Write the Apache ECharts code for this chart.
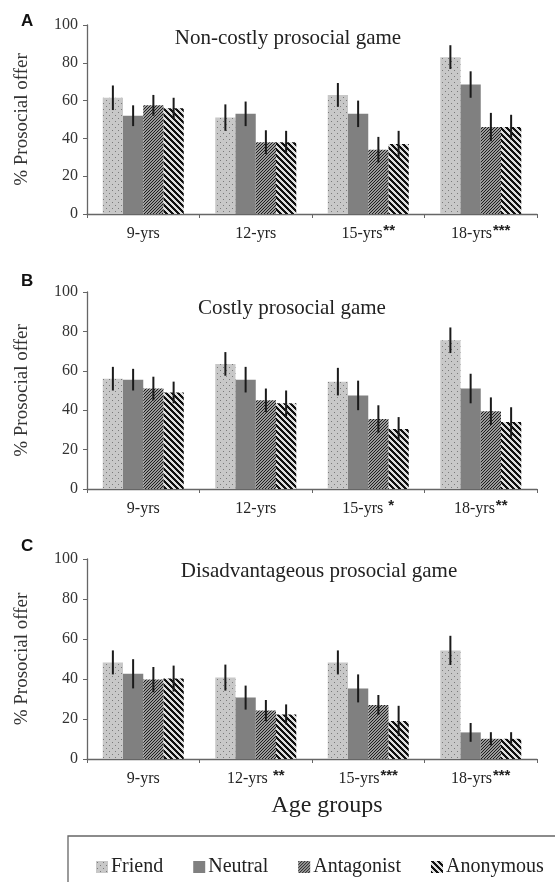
<!DOCTYPE html>
<html>
<head>
<meta charset="utf-8">
<script src="https://cdn.jsdelivr.net/npm/echarts@6/dist/echarts.min.js"></script>
<style>
  html, body { margin: 0; padding: 0; background: #fff; }
  #main { width: 555px; height: 882px; }
</style>
</head>
<body>
<div id="main"></div>
<script>
// categories and significance marks
var ageGroups = ['9-yrs', '12-yrs', '15-yrs', '18-yrs'];
var starsA = ['', '', '**', '***'];
var starsB = ['', '', ' *', '**'];
var starsC = ['', ' **', '***', '***'];
var yTicks = [0, 20, 40, 60, 80, 100];

// A: Non-costly prosocial game
var friendA = [61.5, 51, 63, 83];
var neutralA = [52, 53, 53, 68.5];
var antagA = [57.5, 38, 34, 46];
var anonA = [56, 38, 37, 46];
var friendErrA = [6.5, 7, 6.3, 6.3];
var neutralErrA = [5.5, 6.5, 7, 7];
var antagErrA = [5.5, 6.3, 6.8, 7.5];
var anonErrA = [5.5, 6, 7, 6.5];

// B: Costly prosocial game
var friendB = [56, 63.5, 54.5, 75.5];
var neutralB = [55.5, 55.5, 47.5, 51];
var antagB = [51, 45, 35.5, 39.5];
var anonB = [49, 43.5, 30.5, 34];
var friendErrB = [6, 6, 7, 6.5];
var neutralErrB = [5.5, 6.5, 7.5, 7.5];
var antagErrB = [6, 6, 7, 7];
var anonErrB = [5.5, 6.5, 6, 7.5];

// C: Disadvantageous prosocial game
var friendC = [48.3, 40.7, 48.3, 54.3];
var neutralC = [42.6, 30.7, 35.3, 13.3];
var antagC = [39.7, 24.2, 27, 10.1];
var anonC = [40.2, 22.3, 19, 10.1];
var friendErrC = [6, 6.5, 6, 7.3];
var neutralErrC = [7.3, 6, 7, 4.7];
var antagErrC = [6.3, 5.3, 5, 3.3];
var anonErrC = [6.5, 5, 7.6, 3.3];

var names = ['Friend', 'Neutral', 'Antagonist', 'Anonymous'];

// fill patterns drawn pixel by pixel
function makePattern(size, bg, fg, test) {
    var c = document.createElement('canvas');
    c.width = size; c.height = size;
    var ctx = c.getContext('2d');
    ctx.fillStyle = bg;
    ctx.fillRect(0, 0, size, size);
    ctx.fillStyle = fg;
    for (var x = 0; x < size; x++) {
        for (var y = 0; y < size; y++) {
            if (test(x, y, size)) ctx.fillRect(x, y, 1, 1);
        }
    }
    return { image: c, repeat: 'repeat' };
}
var fills = [
    makePattern(6, '#c8c8c8', '#7a7a7a', function (x, y) { return (x === 1 && y === 1) || (x === 4 && y === 4); }),
    '#808080',
    makePattern(3, '#9a9a9a', '#1e1e1e', function (x, y, s) { return (x + y) % s === 0; }),
    makePattern(6, '#dedede', '#111111', function (x, y, s) { return ((x - y) % s + s) % s < 3; })
];

var serif = 'Liberation Serif, Times New Roman, serif';
var sans = 'Liberation Sans, Arial, sans-serif';
var catGap = 0.28;

var grids = [
    { left: 87, right: 18, top: 25, height: 189 },
    { left: 87, right: 18, top: 292, height: 197 },
    { left: 87, right: 18, top: 559, height: 200 }
];
var panels = [
    { vals: [friendA, neutralA, antagA, anonA], errs: [friendErrA, neutralErrA, antagErrA, anonErrA], stars: starsA },
    { vals: [friendB, neutralB, antagB, anonB], errs: [friendErrB, neutralErrB, antagErrB, anonErrB], stars: starsB },
    { vals: [friendC, neutralC, antagC, anonC], errs: [friendErrC, neutralErrC, antagErrC, anonErrC], stars: starsC }
];

var xAxes = [], yAxes = [], series = [];
panels.forEach(function (p, gi) {
    xAxes.push({
        type: 'category',
        gridIndex: gi,
        data: ageGroups.map(function (g, i) { return g + '|' + p.stars[i]; }),
        axisLine: { lineStyle: { color: '#666', width: 1.3 } },
        axisTick: { show: true, length: 4, lineStyle: { color: '#666' } },
        axisLabel: {
            interval: 0,
            margin: 8,
            formatter: function (v) {
                var parts = v.split('|');
                return '{n|' + parts[0] + '}' + (parts[1] ? '{s|' + parts[1] + '}' : '');
            },
            rich: {
                n: { fontFamily: serif, fontSize: 16, color: '#222', lineHeight: 20, verticalAlign: 'bottom' },
                s: { fontFamily: sans, fontSize: 15, fontWeight: 'bold', color: '#222', lineHeight: 15, verticalAlign: 'bottom', padding: [0, 0, 4, 1] }
            }
        }
    });
    yAxes.push({
        type: 'value',
        gridIndex: gi,
        min: 0, max: 100, interval: 20,
        name: '% Prosocial offer',
        nameLocation: 'middle',
        nameGap: 55,
        nameTextStyle: { fontFamily: serif, fontSize: 19, color: '#333' },
        axisLine: { show: true, lineStyle: { color: '#666', width: 1.3 } },
        axisTick: { show: true, length: 4, lineStyle: { color: '#666' } },
        axisLabel: { fontFamily: serif, fontSize: 16, color: '#333', margin: 9 },
        splitLine: { show: false }
    });
    p.vals.forEach(function (arr, k) {
        series.push({
            name: names[k],
            type: 'bar',
            xAxisIndex: gi, yAxisIndex: gi,
            barGap: 0,
            barCategoryGap: (catGap * 100) + '%',
            itemStyle: { color: fills[k] },
            data: arr
        });
    });
    var errData = [];
    p.vals.forEach(function (arr, k) {
        arr.forEach(function (v, i) {
            errData.push([i, v - p.errs[k][i], v + p.errs[k][i], k]);
        });
    });
    series.push({
        name: 'err' + gi,
        type: 'custom',
        xAxisIndex: gi, yAxisIndex: gi,
        z: 10,
        encode: { x: 0, y: [1, 2] },
        renderItem: function (params, api) {
            var hi = api.coord([api.value(0), api.value(2)]);
            var lo = api.coord([api.value(0), api.value(1)]);
            var band = api.size([1, 0])[0];
            var w = band * (1 - catGap) / 4;
            var x = hi[0] + (api.value(3) - 1.5) * w;
            return {
                type: 'line',
                shape: { x1: x, y1: hi[1], x2: x, y2: lo[1] },
                style: { stroke: '#1a1a1a', lineWidth: 2 }
            };
        },
        data: errData
    });
});

var chart = echarts.init(document.getElementById('main'));
chart.setOption({
    backgroundColor: '#fff',
    animation: false,
    title: [
        { text: 'Non-costly prosocial game', left: 283, top: 23, textAlign: 'center', textStyle: { fontFamily: serif, fontSize: 21, fontWeight: 'normal', color: '#222' } },
        { text: 'Costly prosocial game', left: 287, top: 293, textAlign: 'center', textStyle: { fontFamily: serif, fontSize: 21, fontWeight: 'normal', color: '#222' } },
        { text: 'Disadvantageous prosocial game', left: 314, top: 556, textAlign: 'center', textStyle: { fontFamily: serif, fontSize: 21, fontWeight: 'normal', color: '#222' } },
        { text: 'A', left: 16, top: 8, textStyle: { fontFamily: sans, fontSize: 17, fontWeight: 'bold', color: '#111' } },
        { text: 'B', left: 16, top: 268, textStyle: { fontFamily: sans, fontSize: 17, fontWeight: 'bold', color: '#111' } },
        { text: 'C', left: 16, top: 533, textStyle: { fontFamily: sans, fontSize: 17, fontWeight: 'bold', color: '#111' } },
        { text: 'Age groups', left: 322, top: 789, textAlign: 'center', textStyle: { fontFamily: serif, fontSize: 24, fontWeight: 'normal', color: '#222' } }
    ],
    legend: {
        data: names,
        left: 91, top: 852,
        width: 480,
        itemWidth: 12, itemHeight: 12,
        itemGap: 30,
        icon: 'rect',
        textStyle: { fontFamily: serif, fontSize: 20, color: '#222', padding: [0, 0, 0, -2] }
    },
    graphic: [
        { type: 'rect', shape: { x: 68, y: 836, width: 520, height: 80 }, style: { fill: 'none', stroke: '#666', lineWidth: 1.3 } }
    ],
    grid: grids,
    xAxis: xAxes,
    yAxis: yAxes,
    series: series
});
</script>
</body>
</html>
